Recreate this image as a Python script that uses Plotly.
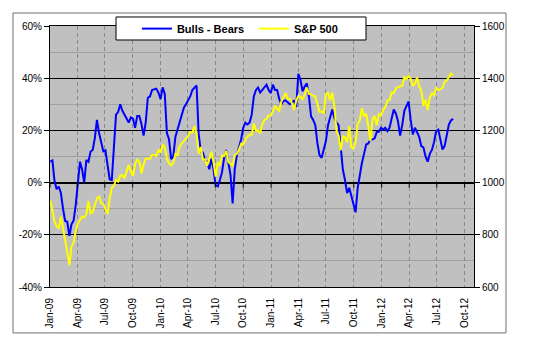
import pandas as pd
import plotly.graph_objects as go

# Weekly survey dates (Fridays), Jan 2 2009 .. Aug 24 2012
start_date = "2009-01-02"
n_weeks = 191
dates = pd.date_range(start_date, periods=n_weeks, freq="7D")

bulls_bears = [
    8, 8.5, 0.5, -2.5, -1.5, -4, -10, -14.7, -15, -20.4, -16, -14.5, -8.5, -1,
    8, 5, 0, 8.6, 8, 11.9, 12.5, 17, 24, 19, 16, 12, 12.4, 7, 1.3, 1, 15, 26, 27,
    30, 27.5, 26, 24, 23, 25, 24.5, 21, 25.5, 25.5, 22.5, 18, 23, 32.5, 33, 35.5,
    35.8, 36, 34.5, 32, 36.5, 34, 19, 16.6, 9, 10, 17.5, 20.4, 23, 26, 28.7, 30,
    31.3, 33, 35.5, 36.5, 37.2, 18.5, 12, 11.5, 8.5, 8, 5.1, 9.3, 5, -1, -1.5, 1,
    4, 9.5, 12.5, 7.5, 3, -8, 5, 10.5, 13.4, 16.5, 21, 23, 22.3, 23, 26, 33, 35.5,
    36.4, 34.5, 35.5, 36.3, 37.5, 35.5, 34.3, 37.5, 35.5, 35.5, 32, 30, 31.3, 31.5,
    30.7, 30, 30.5, 31.5, 29, 41.7, 39.4, 35, 36.8, 38, 33, 25.4, 24, 22, 15, 10.5,
    9.5, 12.7, 15.9, 22, 25, 28, 24.8, 23, 22, 12.7, 5, 1, -4, -2, -5, -9,
    -11.4, -2, 3.8, 7.6, 11, 14.6, 15, 16.5, 16.5, 17, 19.5, 19.5, 21, 20.3, 21,
    19.7, 21, 24, 28, 26.5, 23.5, 18, 22, 27.5, 29.2, 31.1, 24, 18.5, 21,
    19.1, 17.5, 14, 13.5, 10, 8, 11, 12.5, 15.5, 19.7, 20.3, 16, 12.7, 14, 17.8, 22.2,
    23.8, 24.4,
]

sp500 = [
    932, 890, 850, 832, 826, 869, 827, 770, 735, 683, 757, 769, 816, 843, 857,
    870, 866, 878, 929, 883, 887, 919, 940, 946, 921, 919, 896, 879, 940, 979,
    987, 1010, 1004, 1026, 1029, 1016, 1043, 1068, 1044, 1025, 1071, 1088, 1080,
    1036, 1069, 1093, 1091, 1091, 1106, 1106, 1102, 1126,
    1115, 1145, 1136, 1092, 1074, 1066, 1076, 1109, 1104, 1139, 1150, 1160, 1167,
    1178, 1194, 1192, 1217, 1187, 1111, 1136, 1088, 1089, 1065, 1092, 1118, 1077,
    1023, 1078, 1065, 1103, 1102, 1122, 1079, 1072, 1065, 1105, 1110, 1126, 1149,
    1146, 1165, 1176, 1183, 1183, 1226, 1199, 1200, 1189, 1225, 1240, 1244, 1257,
    1258,
    1272, 1293, 1283, 1276, 1311, 1329, 1343, 1320, 1321, 1304, 1279, 1314, 1332,
    1328, 1320, 1337, 1364, 1340, 1338, 1333, 1331, 1300, 1271, 1272, 1268, 1340,
    1344, 1316, 1345, 1292, 1199, 1179, 1124, 1177, 1174, 1154, 1216, 1136, 1131,
    1155, 1225, 1238, 1285, 1253, 1264, 1216, 1159, 1244, 1255, 1220, 1265, 1258,
    1278, 1289, 1315, 1316, 1345, 1343, 1361, 1366, 1370, 1371, 1404, 1397, 1408,
    1398, 1370, 1379, 1403, 1369, 1353, 1295, 1318, 1278, 1326, 1343, 1335, 1362,
    1355, 1357, 1363, 1386, 1391, 1406, 1418, 1411,
]

series_names = ["Bulls - Bears", "S&P 500"]
left_ticks = [-40, -20, 0, 20, 40, 60]
left_tick_text = ["-40%", "-20%", "0%", "20%", "40%", "60%"]
right_ticks = [600, 800, 1000, 1200, 1400, 1600]
x_start, x_end = "2009-01-01", "2012-11-01"
quarter_ticks = pd.date_range("2009-01-01", "2012-10-01", freq="QS")

FONT = "Liberation Sans, Arial, sans-serif"

fig = go.Figure()
fig.add_trace(go.Scatter(
    x=dates, y=bulls_bears, name=series_names[0], mode="lines",
    line=dict(color="#0000FF", width=2), yaxis="y",
))
fig.add_trace(go.Scatter(
    x=dates, y=sp500, name=series_names[1], mode="lines",
    line=dict(color="#FFFF00", width=2), yaxis="y2",
))

shapes = []
# tick marks on the 0% line at each quarter
for d in quarter_ticks:
    shapes.append(dict(type="line", xref="x", yref="y", x0=d, x1=d,
                       ysizemode="pixel", yanchor=0, y0=0, y1=-5,
                       line=dict(color="black", width=1), layer="above"))
# outer chart-area border
shapes.append(dict(type="rect", xref="paper", yref="paper",
                   x0=-0.0873, x1=1.0755, y0=-0.176, y1=1.0498,
                   line=dict(color="#707070", width=1), fillcolor="rgba(0,0,0,0)",
                   layer="above"))
# legend box
shapes.append(dict(type="rect", xref="paper", yref="paper",
                   x0=0.1557, x1=0.7453, y0=0.9464, y1=1.0345,
                   line=dict(color="black", width=1), fillcolor="white",
                   layer="above"))

fig.update_layout(
    width=540, height=352,
    margin=dict(l=50, r=66, t=26, b=65),
    paper_bgcolor="white", plot_bgcolor="#C0C0C0",
    font=dict(family=FONT, size=10, color="black"),
    showlegend=True,
    legend=dict(orientation="h", x=0.205, xanchor="left", y=0.990, yanchor="middle",
                bgcolor="rgba(0,0,0,0)", borderwidth=0,
                font=dict(family=FONT, size=11, color="black", weight="bold"),
                entrywidth=72, entrywidthmode="pixels", itemwidth=30),
    xaxis=dict(
        type="date", range=[x_start, x_end],
        tick0="2009-01-01", dtick="M3", tickformat="%b-%y", tickangle=-90,
        ticks="", ticklabelstandoff=6,
        showgrid=True, gridcolor="#8a8a8a", gridwidth=1, griddash="4px,3px",
        showline=True, linecolor="black", linewidth=1, mirror=True,
        zeroline=False, tickfont=dict(size=10),
    ),
    yaxis=dict(
        range=[-40, 60], tickmode="array", tickvals=left_ticks, ticktext=left_tick_text,
        ticks="outside", ticklen=5, tickcolor="black",
        showgrid=True, gridcolor="black", gridwidth=1,
        minor=dict(dtick=10, showgrid=True, gridcolor="#a0a0a0", gridwidth=1, ticks=""),
        zeroline=True, zerolinecolor="black", zerolinewidth=2,
        showline=True, linecolor="black", linewidth=1,
        tickfont=dict(size=10),
    ),
    yaxis2=dict(
        range=[600, 1600], tickmode="array", tickvals=right_ticks, overlaying="y", side="right",
        ticks="outside", ticklen=5, tickcolor="black",
        showgrid=False, zeroline=False,
        showline=True, linecolor="black", linewidth=1,
        tickfont=dict(size=10),
    ),
    shapes=shapes,
)

fig.write_html("out.html")
